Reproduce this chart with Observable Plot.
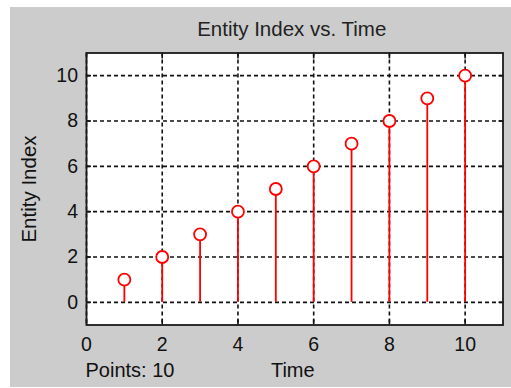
<!DOCTYPE html>
<html><head><meta charset="utf-8">
<script src="https://cdn.jsdelivr.net/npm/d3@7"></script>
<script src="https://cdn.jsdelivr.net/npm/@observablehq/plot@0.6"></script>
<style>
body{margin:0;background:#fff;}
#wrap{position:relative;width:511px;height:388px;overflow:hidden;}
#bg{position:absolute;left:10px;top:7px;width:501px;height:380px;background:#cccccc;}
#chart{position:absolute;left:0;top:0;}
</style></head><body>
<div id="wrap"><div id="bg"></div><div id="chart"></div></div>
<script>
const times = [1, 2, 3, 4, 5, 6, 7, 8, 9, 10];
const entityIndex = [1, 2, 3, 4, 5, 6, 7, 8, 9, 10];
const xTicks = [0, 2, 4, 6, 8, 10];
const yTicks = [0, 2, 4, 6, 8, 10];
const titleText = "Entity Index vs. Time";
const xLabel = "Time";
const yLabel = "Entity Index";
const pointsLabel = "Points: 10";

const data = times.map((t, i) => ({t, v: entityIndex[i]}));
const fontFamily = "'Liberation Sans', Arial, Helvetica, sans-serif";
const red = "#ff0000";
const ink = "#111111";
const gridOpts = {stroke: "#111", strokeOpacity: 1, strokeDasharray: "4,3", strokeWidth: 1.6};

const plot = Plot.plot({
  width: 511, height: 388,
  marginLeft: 86, marginRight: 8.5, marginTop: 52.5, marginBottom: 63.5,
  style: {background: "transparent", fontFamily, fontSize: "19.5px", color: ink},
  x: {domain: [0, 11], ticks: xTicks},
  y: {domain: [-1, 11], ticks: yTicks},
  marks: [
    Plot.frame({fill: "white", stroke: null}),
    Plot.gridX(xTicks, gridOpts),
    Plot.gridY(yTicks, gridOpts),
    Plot.axisX(xTicks, {anchor: "bottom", tickSize: 0, tickPadding: 12, label: null, fontSize: 19.5, fill: ink}),
    Plot.axisY(yTicks, {anchor: "left", tickSize: 0, tickPadding: 8.5, label: null, fontSize: 19.5, fill: ink}),
    Plot.axisX(xTicks, {anchor: "bottom", tickSize: 5, dy: -5, tickFormat: () => "", label: null, stroke: "#111", strokeWidth: 1.6}),
    Plot.axisX(xTicks, {anchor: "top", tickSize: 5, dy: 5, tickFormat: () => "", label: null, stroke: "#111", strokeWidth: 1.6}),
    Plot.axisY(yTicks, {anchor: "left", tickSize: 5, dx: 5, tickFormat: () => "", label: null, stroke: "#111", strokeWidth: 1.6}),
    Plot.axisY(yTicks, {anchor: "right", tickSize: 5, dx: -5, tickFormat: () => "", label: null, stroke: "#111", strokeWidth: 1.6}),
    Plot.ruleX(data, {x: "t", y1: 0, y2: "v", stroke: red, strokeWidth: 1.8}),
    Plot.dot(data, {x: "t", y: "v", r: 6, stroke: red, fill: "white", strokeWidth: 1.8}),
    Plot.frame({stroke: "#1a1a1a", strokeWidth: 1.8}),
    Plot.text([titleText], {frameAnchor: "top", dy: -24, dx: -3, lineAnchor: "middle", fontSize: 20.5, fill: "#222"}),
    Plot.text([xLabel], {frameAnchor: "bottom", dy: 45.5, dx: -2, lineAnchor: "middle", fontSize: 20, fill: ink}),
    Plot.text([pointsLabel], {frameAnchor: "bottom-left", dy: 45.5, dx: -1, textAnchor: "start", lineAnchor: "middle", fontSize: 20, fill: ink}),
    Plot.text([yLabel], {frameAnchor: "left", dx: -57.5, rotate: -90, lineAnchor: "middle", textAnchor: "middle", fontSize: 20.5, fill: ink})
  ]
});
document.getElementById("chart").appendChild(plot);
</script>
</body></html>
